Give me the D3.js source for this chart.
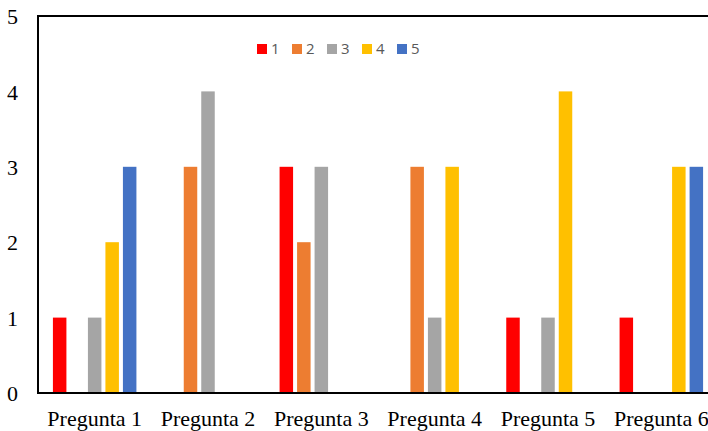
<!DOCTYPE html>
<html>
<head>
    <meta charset="utf-8">
    <script src="https://d3js.org/d3.v7.min.js"></script>
    <style>
        body { margin: 0; background: #fff; }
        svg { display: block; }
        .ytick text, .xtick text { font-family: "Liberation Serif", "Times New Roman", serif; fill: #000; }
    </style>
</head>
<body>
    <div id="app"></div>
<script>
    // datos del gráfico
    let categories = ["Pregunta 1", "Pregunta 2", "Pregunta 3", "Pregunta 4", "Pregunta 5", "Pregunta 6"];
    let seriesNames = ["1", "2", "3", "4", "5"];
    let serie1 = [1, 0, 3, 0, 1, 1];
    let serie2 = [0, 3, 2, 3, 0, 0];
    let serie3 = [1, 4, 3, 1, 1, 0];
    let serie4 = [2, 0, 0, 3, 4, 3];
    let serie5 = [3, 0, 0, 0, 0, 3];
    let yTicks = [0, 1, 2, 3, 4, 5];
    let colors = ["#FF0000", "#ED7D31", "#A5A5A5", "#FFC000", "#4472C4"];

    let allSeries = [serie1, serie2, serie3, serie4, serie5];

    let W = 708, H = 431;
    let mLeft = 38, mTop = 16, mBottom = 393, mRight = 718;   // el gráfico original está recortado a la derecha

    let svg = d3.select("#app").append("svg")
        .attr("width", W)
        .attr("height", H);

    let y = d3.scaleLinear().domain([0, 5]).range([mBottom, mTop]);
    let x0 = d3.scaleBand().domain(categories).range([mLeft, mRight]);
    let groupW = 83.5;
    let x1 = d3.scaleBand().domain(seriesNames).range([0, groupW]).paddingInner(0.229).paddingOuter(0);

    // barras
    let groups = svg.append("g").selectAll("g")
        .data(categories)
        .join("g")
        .attr("transform", c => "translate(" + (x0(c) + x0.bandwidth() / 2 - groupW / 2) + ",0)");

    groups.selectAll("rect")
        .data((c, i) => seriesNames.map((s, j) => ({ s: s, v: allSeries[j][i], color: colors[j] })).filter(d => d.v > 0))
        .join("rect")
        .attr("x", d => x1(d.s))
        .attr("width", x1.bandwidth())
        .attr("y", d => y(d.v))
        .attr("height", d => y(0) - y(d.v))
        .attr("fill", d => d.color);

    // ejes
    let yAxis = svg.append("g")
        .attr("class", "ytick")
        .attr("transform", "translate(" + mLeft + ",0)")
        .call(d3.axisLeft(y).tickValues(yTicks).tickSize(0).tickPadding(20).tickFormat(d3.format("d")));
    yAxis.select(".domain").remove();
    yAxis.selectAll("text").attr("font-size", 22).attr("dy", "0.35em");

    let xAxis = svg.append("g")
        .attr("class", "xtick")
        .attr("transform", "translate(0," + mBottom + ")")
        .call(d3.axisBottom(x0).tickSize(0).tickPadding(17));
    xAxis.select(".domain").remove();
    xAxis.selectAll("text").attr("font-size", 22).attr("dy", "0.71em");

    // marco: izquierda, abajo y arriba
    svg.append("line").attr("x1", mLeft).attr("x2", mLeft).attr("y1", mTop - 1).attr("y2", mBottom + 1)
        .attr("stroke", "#000").attr("stroke-width", 2);
    svg.append("line").attr("x1", mLeft - 1).attr("x2", W).attr("y1", mBottom).attr("y2", mBottom)
        .attr("stroke", "#000").attr("stroke-width", 2);
    svg.append("line").attr("x1", mLeft - 1).attr("x2", W).attr("y1", mTop).attr("y2", mTop)
        .attr("stroke", "#000").attr("stroke-width", 2);

    // leyenda
    let legend = svg.append("g").attr("transform", "translate(257,44)");
    let items = legend.selectAll("g")
        .data(seriesNames)
        .join("g")
        .attr("transform", (d, i) => "translate(" + (i * 35) + ",0)");
    items.append("rect").attr("width", 10).attr("height", 10).attr("fill", (d, i) => colors[i]);
    items.append("text")
        .attr("x", 14).attr("y", 5).attr("dy", "0.36em")
        .attr("font-family", "Open Sans, Liberation Sans, sans-serif")
        .attr("font-size", 15)
        .attr("fill", "#595959")
        .text(d => d);
</script>
</body>
</html>
